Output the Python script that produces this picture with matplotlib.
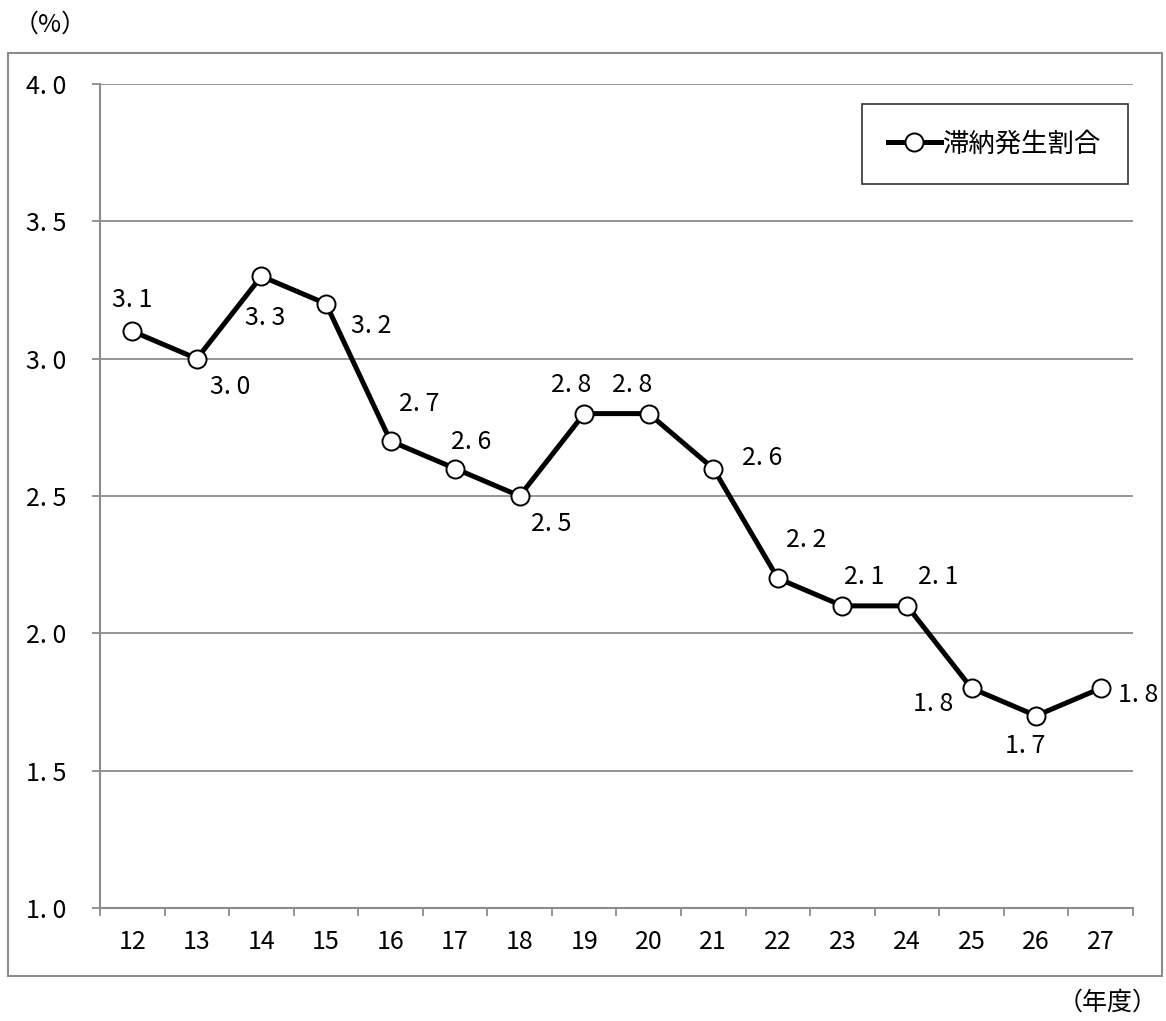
import matplotlib
matplotlib.use('agg')
import matplotlib.pyplot as plt
import matplotlib.patches as mpatches
import numpy as np

plt.rcParams['font.family'] = ['Noto Sans CJK JP', 'DejaVu Sans']

years = ['12', '13', '14', '15', '16', '17', '18', '19',
         '20', '21', '22', '23', '24', '25', '26', '27']
rates = [3.1, 3.0, 3.3, 3.2, 2.7, 2.6, 2.5, 2.8,
         2.8, 2.6, 2.2, 2.1, 2.1, 1.8, 1.7, 1.8]
series_name = '滞納発生割合'
y_ticks = [1.0, 1.5, 2.0, 2.5, 3.0, 3.5, 4.0]

# label offsets in pixels (dx, dy) relative to each point
label_offsets = [(0, 31), (33, -28), (4, -42), (45, -22), (29, 37), (16, 27),
                 (32, -28), (-13, 29), (-17, 29), (49, 11), (28, 38), (22, 29),
                 (31, 29), (-38, -16), (-11, -30), (37, -7)]

gray = '#8c8c8c'

fig = plt.figure(figsize=(11.66, 10.21), dpi=100)
ax = fig.add_axes([100 / 1166, 1 - 908 / 1021, 1033 / 1166, (908 - 84) / 1021])

# outer frame of the chart area
fig.patches.append(mpatches.Rectangle((8 / 1166, 1 - 976 / 1021), 1154 / 1166, 923 / 1021,
                                      transform=fig.transFigure, fill=False,
                                      edgecolor=gray, linewidth=1.5))

x = np.arange(len(years))
ax.set_xlim(-0.5, len(years) - 0.5)
ax.set_ylim(1.0, 4.0)

for y in y_ticks[1:]:
    ax.axhline(y, color=gray, linewidth=1.3, zorder=1)

ax.plot(x, rates, color='black', linewidth=3.6, marker='o', markersize=13,
        markerfacecolor='white', markeredgecolor='black', markeredgewidth=1.4,
        zorder=3, label=series_name)

for xi, v, (dx, dy) in zip(x, rates, label_offsets):
    ax.annotate(f'{v:.1f}'.replace('.', '. '), (xi, v), xytext=(dx, dy),
                textcoords='offset pixels', ha='center', va='center', fontsize=18)

for s in ['top', 'right']:
    ax.spines[s].set_visible(False)
for s in ['left', 'bottom']:
    ax.spines[s].set_color(gray)
    ax.spines[s].set_linewidth(1.5)

ax.set_yticks(y_ticks)
ax.set_yticklabels([f'{v:.1f}'.replace('.', '. ') for v in y_ticks], fontsize=18)
ax.tick_params(axis='y', length=6, width=1.3, color=gray, pad=18)

ax.set_xticks(x)
ax.set_xticklabels(years, fontsize=18)
ax.set_xticks(np.arange(len(years) + 1) - 0.5, minor=True)
ax.tick_params(axis='x', which='major', length=0, pad=15)
ax.tick_params(axis='x', which='minor', length=6, width=1.3, color=gray)

leg = ax.legend(loc='upper right', bbox_to_anchor=(1128 / 1033 - 100 / 1033, (908 - 104) / 824),
                fontsize=19, frameon=True, fancybox=False, edgecolor='black',
                handlelength=2.0, handletextpad=0.1, borderpad=1.0, borderaxespad=0)
leg.get_frame().set_linewidth(1.2)

fig.text(50 / 1166, 1 - 25 / 1021, '（%）', ha='center', va='center', fontsize=18)
fig.text(1158 / 1166, 1 - 1003 / 1021, '（年度）', ha='right', va='center', fontsize=18)

fig.savefig('out.png', dpi=100)
